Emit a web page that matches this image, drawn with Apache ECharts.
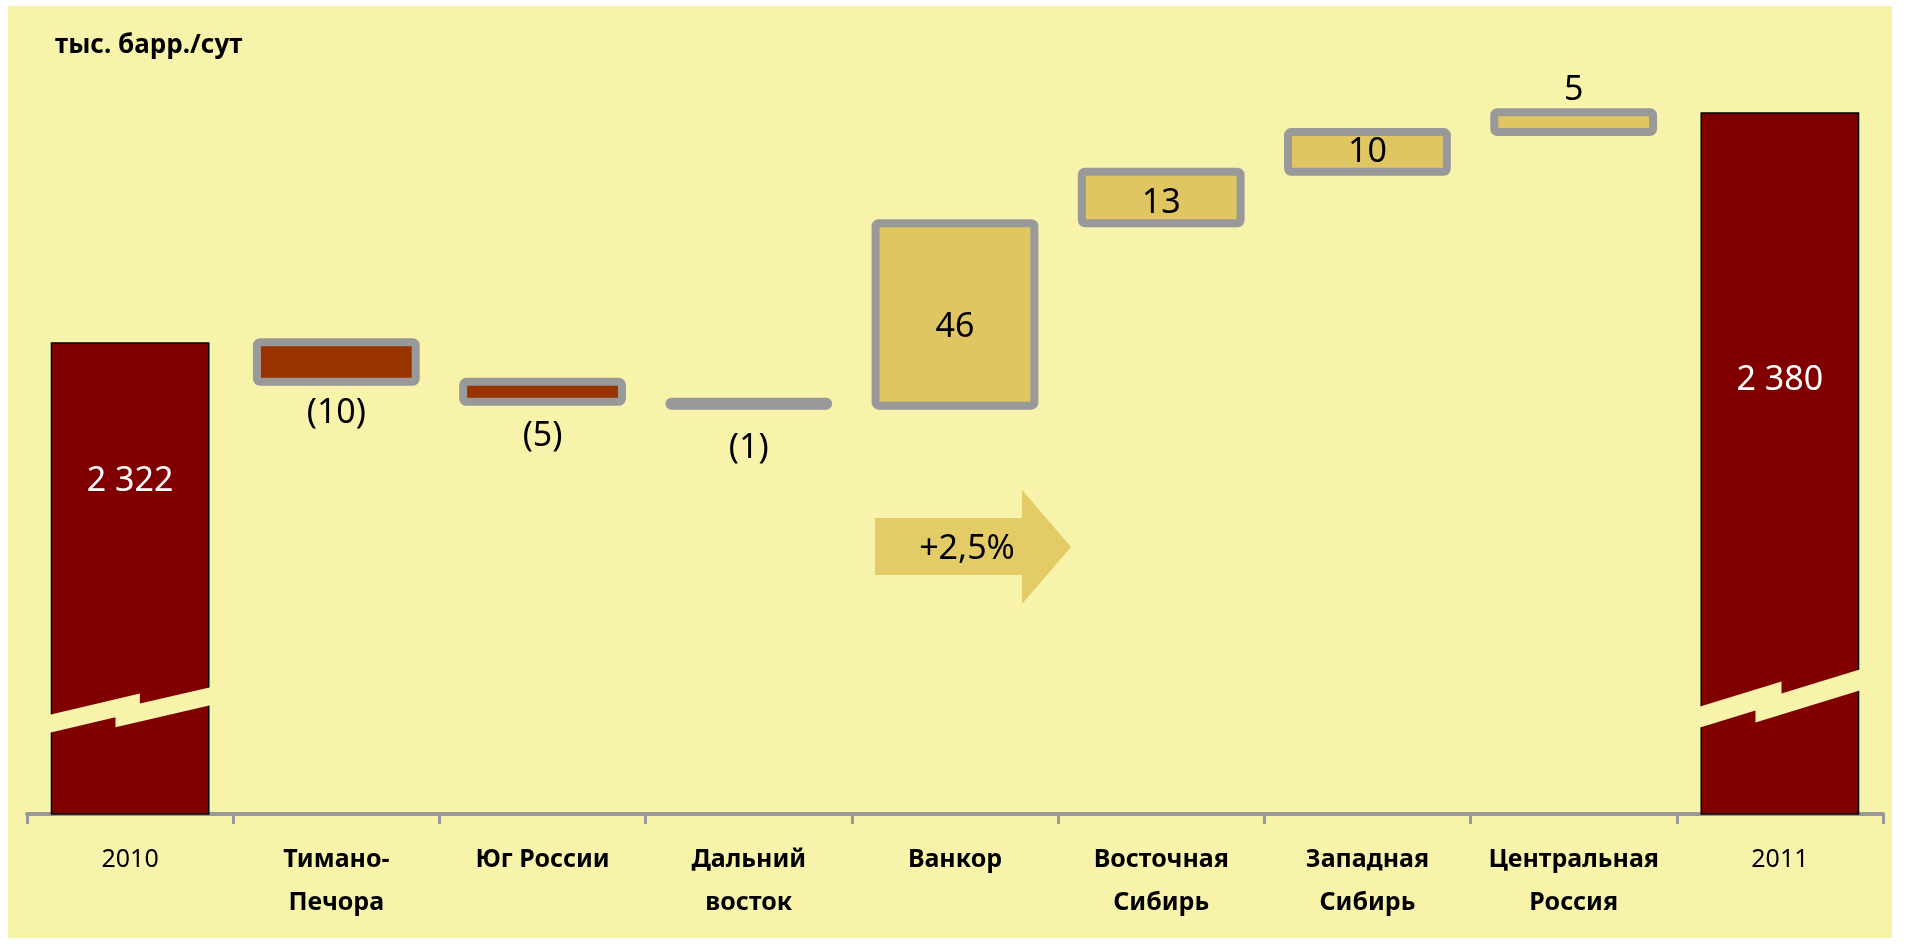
<!DOCTYPE html>
<html><head><meta charset="utf-8">
<script src="https://cdn.jsdelivr.net/npm/echarts@6/dist/echarts.min.js"></script>
<style>html,body{margin:0;padding:0;background:#fff}#c{width:1913px;height:944px}</style>
</head><body><div id="c"></div>
<script>
// ---- data ----
const categories = ['2010', 'Тимано-\nПечора', 'Юг России', 'Дальний\nвосток', 'Ванкор', 'Восточная\nСибирь', 'Западная\nСибирь', 'Центральная\nРоссия', '2011'];
const boldCategory = [false, true, true, true, true, true, true, true, false];
const startTotal = 2322;   // 2010
const endTotal = 2380;     // 2011
const changes = [-10, -5, -1, 46, 13, 10, 5];
const breakValues = [2228, 2230];   // value where the axis-break band crosses the 2010 / 2011 bars
const unitLabel = 'тыс. барр./сут';
const growthLabel = '+2,5%';
const yMin = 2203, yMax = 2400;

// ---- styles ----
const BG = '#F7F3AB', TOTAL = '#800000', NEG = '#993300', POS = '#DFC663', EDGE = '#999999';
const FONT = 'Noto Sans';
const negLabelDist = [14, 18, 26];
const posLabelOffset = [13, 6, 0];
const BAR_RATIO = 0.77;

const fmtThousands = v => String(v).replace(/\B(?=(\d{3})+(?!\d))/g, ' ');

// ---- build waterfall ----
const base = [0], vis = [], deltaRects = [];
vis.push({ value: startTotal, itemStyle: { color: TOTAL, borderColor: '#000', borderWidth: 1.5 },
  label: { show: true, position: ['50%', 139], align: 'center', verticalAlign: 'middle', color: '#fff', formatter: () => fmtThousands(startTotal) } });
let run = startTotal;
let ni = 0, pi = 0;
changes.forEach((c, i) => {
  const idx = i + 1;
  const lo = c < 0 ? run + c : run, hi = c < 0 ? run : run + c;
  base.push(lo);
  deltaRects.push([idx, lo, hi, c < 0 ? 0 : 1]);
  let label;
  if (c < 0) label = { show: true, position: 'bottom', distance: negLabelDist[ni++], color: '#000', formatter: '(' + (-c) + ')' };
  else if (i === changes.length - 1) label = { show: true, position: 'top', distance: 5, color: '#000', formatter: String(c) };
  else label = { show: true, position: 'inside', offset: [0, posLabelOffset[pi++]], color: '#000', formatter: String(c) };
  vis.push({ value: Math.abs(c), itemStyle: { color: 'transparent', borderWidth: 0 }, label });
  run += c;
});
base.push(0);
vis.push({ value: endTotal, itemStyle: { color: TOTAL, borderColor: '#000', borderWidth: 1.5 },
  label: { show: true, position: ['50%', 268], align: 'center', verticalAlign: 'middle', color: '#fff', formatter: () => fmtThousands(endTotal) } });

const breakParams = [
  { rise: 38, step: 10, u1: 0.56, thick: 18, u2: 0.41 },
  { rise: 50, step: 12, u1: 0.51, thick: 21, u2: 0.35 }
];
const breakData = [[0, breakValues[0], 0], [categories.length - 1, breakValues[1], 1]];

const chart = echarts.init(document.getElementById('c'));
chart.setOption({
  backgroundColor: '#fff',
  animation: false,
  textStyle: { fontFamily: FONT },
  grid: { left: 27, right: 30, top: 33, bottom: 130, containLabel: false, outerBoundsMode: 'none' },
  xAxis: {
    type: 'category',
    data: categories.map((c, i) => ({ value: c, textStyle: { fontWeight: boldCategory[i] ? 'bold' : 'normal' } })),
    axisLine: { lineStyle: { color: EDGE, width: 4 } },
    axisTick: { show: true, length: 10, lineStyle: { color: EDGE, width: 3 } },
    axisLabel: { interval: 0, color: '#000', fontSize: 25, lineHeight: 43, margin: 24, fontFamily: FONT }
  },
  yAxis: { type: 'value', min: yMin, max: yMax, show: false, splitLine: { show: false } },
  graphic: [
    { type: 'rect', z: -10, silent: true, shape: { x: 8, y: 6, width: 1884, height: 932 }, style: { fill: BG } },
    { type: 'text', z: 10, style: { text: unitLabel, x: 55, y: 46, verticalAlign: 'middle', fill: '#000', font: 'bold 26px "Noto Sans"' } },
    { type: 'polygon', z: 10, shape: { points: [[875, 518], [1022, 518], [1022, 490], [1071, 547], [1022, 604], [1022, 575], [875, 575]] }, style: { fill: '#E3CB68' } },
    { type: 'text', z: 11, style: { text: growthLabel, x: 967, y: 549, align: 'center', verticalAlign: 'middle', fill: '#000', font: '34px "Noto Sans"' } }
  ],
  series: [
    {
      type: 'custom', data: deltaRects, z: 1, silent: true,
      renderItem: function (params, api) {
        const i = api.value(0);
        const pLo = api.coord([i, api.value(1)]);
        const pHi = api.coord([i, api.value(2)]);
        const w = api.size([1, 0])[0] * BAR_RATIO;
        return {
          type: 'rect',
          shape: { x: pLo[0] - w / 2, y: pHi[1], width: w, height: pLo[1] - pHi[1], r: 3 },
          style: { fill: api.value(3) === 0 ? NEG : POS, stroke: EDGE, lineWidth: 8, lineJoin: 'round' }
        };
      }
    },
    { type: 'bar', stack: 'w', z: 3, data: base, barWidth: (BAR_RATIO * 100) + '%', itemStyle: { color: 'transparent' }, silent: true },
    { type: 'bar', stack: 'w', z: 3, data: vis, barWidth: (BAR_RATIO * 100) + '%', label: { fontSize: 34, fontFamily: FONT } },
    {
      type: 'custom', data: breakData, z: 5, silent: true,
      renderItem: function (params, api) {
        const p = api.coord([api.value(0), api.value(1)]);
        const prm = breakParams[api.value(2)];
        const w = api.size([1, 0])[0] * BAR_RATIO;
        const L = p[0] - w / 2 - 2, R = p[0] + w / 2 + 2, W = R - L;
        const y0 = p[1];
        const pts = [
          [L, y0],
          [L + prm.u1 * W, y0 - prm.rise * prm.u1],
          [L + prm.u1 * W, y0 - prm.rise * prm.u1 + prm.step],
          [R, y0 - prm.rise + prm.step],
          [R, y0 + prm.thick - prm.rise + prm.step],
          [L + prm.u2 * W, y0 + prm.thick - prm.rise * prm.u2 + prm.step],
          [L + prm.u2 * W, y0 + prm.thick - prm.rise * prm.u2],
          [L, y0 + prm.thick]
        ];
        return { type: 'polygon', shape: { points: pts }, style: { fill: BG } };
      }
    }
  ]
});
</script></body></html>
